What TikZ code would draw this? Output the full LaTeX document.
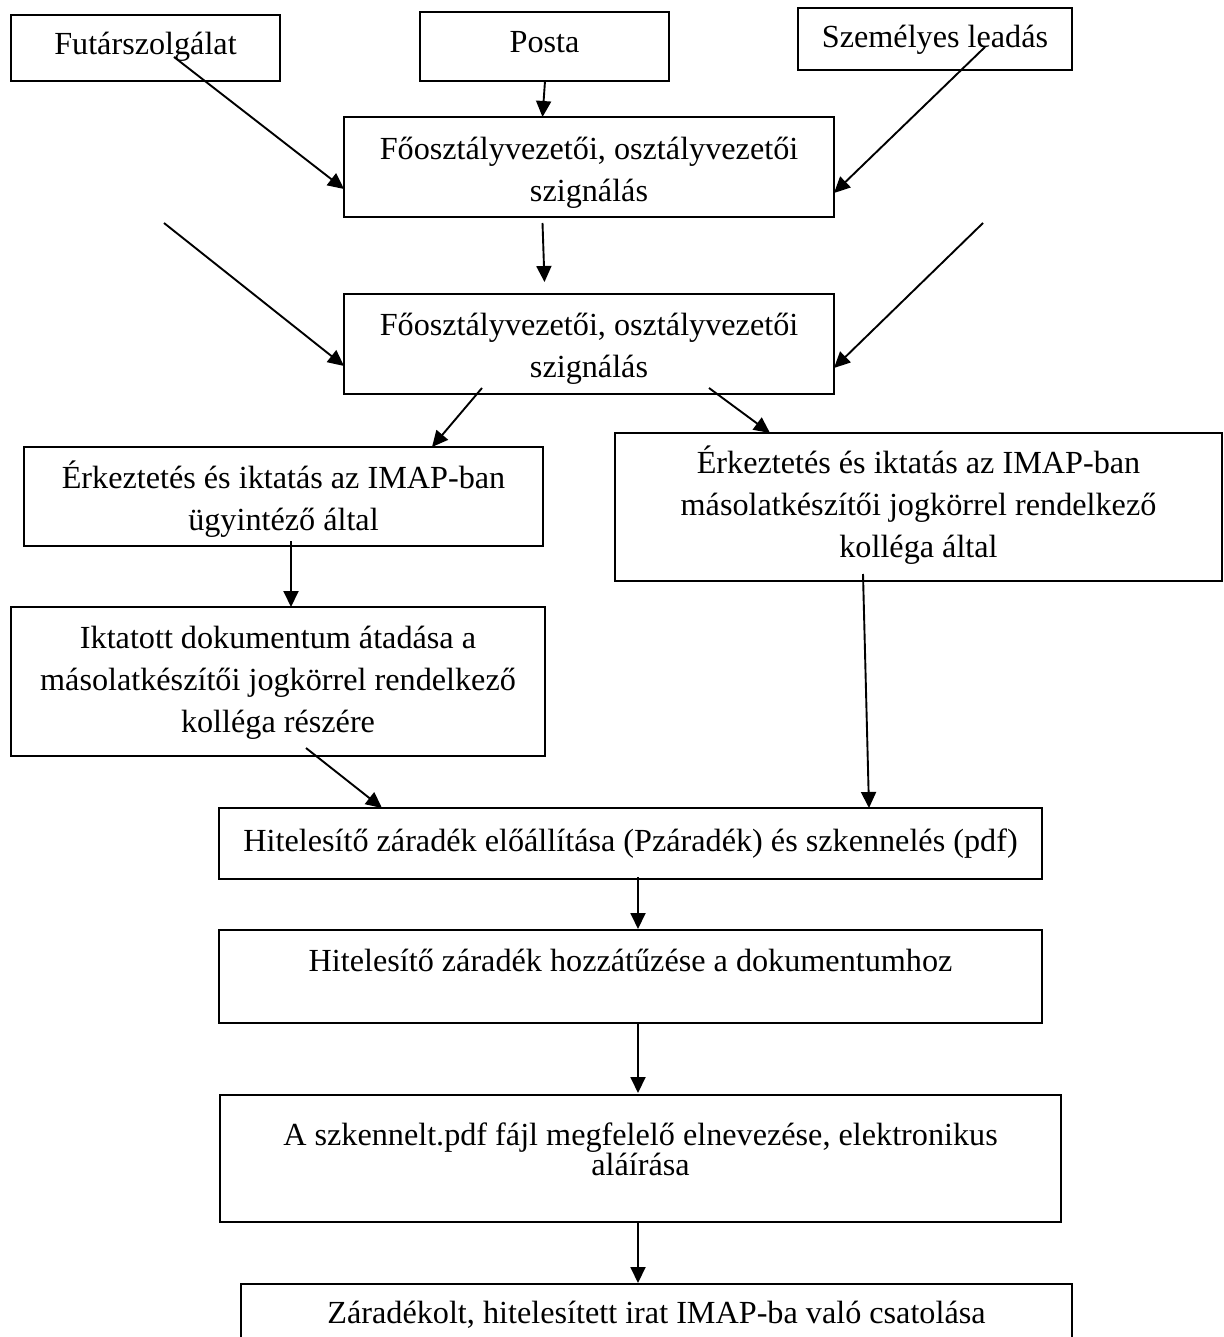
\documentclass[tikz,border=0pt]{standalone}
\usepackage{fontspec}
\setmainfont{Liberation Serif}
\usetikzlibrary{arrows.meta,calc}
\begin{document}
\begin{tikzpicture}[x=1pt,y=-1pt,
  box/.style={draw, line width=1.8pt, inner sep=0pt, outer sep=0pt},
  txt/.style={anchor=base, align=flush center, inner sep=0pt,
    font=\fontsize{32.2}{42}\selectfont},
  tight/.style={font=\fontsize{32.2}{30}\selectfont},
  arr/.style={line width=1.9pt, -{Triangle[length=16pt,width=15pt]}},
]
\fill[white] (0,0) rectangle (1223,1337);
\useasboundingbox (0,0) rectangle (1223,1337);
\begin{scope}
\clip (0,0) rectangle (1223,1337);

% boxes
\node[box, minimum width=269pt, minimum height=66pt] (fut)   at (145.5,48) {};
\node[box, minimum width=249pt, minimum height=69pt] (posta) at (544.5,46.5) {};
\node[box, minimum width=274pt, minimum height=62pt] (szem)  at (935,39) {};
\node[box, minimum width=490pt, minimum height=100pt] (fo1)  at (589,167) {};
\node[box, minimum width=490pt, minimum height=100pt] (fo2)  at (589,344) {};
\node[box, minimum width=519pt, minimum height=99pt] (erk1)  at (283.5,496.5) {};
\node[box, minimum width=607pt, minimum height=148pt] (erk2) at (918.5,507) {};
\node[box, minimum width=534pt, minimum height=149pt] (ikt)  at (278,681.5) {};
\node[box, minimum width=823pt, minimum height=71pt] (hit)   at (630.5,843.5) {};
\node[box, minimum width=823pt, minimum height=93pt] (hoz)   at (630.5,976.5) {};
\node[box, minimum width=841pt, minimum height=127pt] (szk)  at (640.5,1158.5) {};
\node[box, minimum width=831pt, minimum height=100pt] (zar)  at (656.5,1334) {};

% labels
\node[txt, text width=260pt] (fut-t)   at (145.5,55) {Futárszolgálat};
\node[txt, text width=240pt] (posta-t) at (544.5,53) {Posta};
\node[txt, text width=265pt] (szem-t)  at (935,48) {Személyes leadás};
\node[txt, text width=480pt] (fo1-t)   at (589,160) {Főosztályvezetői, osztályvezetői\\szignálás};
\node[txt, text width=480pt] (fo2-t)   at (589,335) {Főosztályvezetői, osztályvezetői\\szignálás};
\node[txt, text width=510pt] (erk1-t)  at (283.5,488) {Érkeztetés és iktatás az IMAP-ban\\ügyintéző által};
\node[txt, text width=597pt] (erk2-t)  at (918.5,473) {Érkeztetés és iktatás az IMAP-ban\\másolatkészítői jogkörrel rendelkező\\kolléga által};
\node[txt, text width=524pt] (ikt-t)   at (278,648) {Iktatott dokumentum átadása a\\másolatkészítői jogkörrel rendelkező\\kolléga részére};
\node[txt, text width=813pt] (hit-t)   at (630.5,851) {Hitelesítő záradék előállítása (Pzáradék) és szkennelés (pdf)};
\node[txt, text width=813pt] (hoz-t)   at (630.5,971) {Hitelesítő záradék hozzátűzése a dokumentumhoz};
\node[txt, tight, text width=831pt] (szk-t) at (640.5,1145) {\lineskiplimit=-100pt\relax A szkennelt.pdf fájl megfelelő elnevezése, elektronikus\\aláírása};
\node[txt, text width=821pt] (zar-t)   at (656.5,1323) {Záradékolt, hitelesített irat IMAP-ba való csatolása};

% free starting points
\coordinate (inL) at (164,223);
\coordinate (inR) at (983,223);

% connectors
\draw[arr] ($(fut.north west)+(163,42)$) -- ($(fo1.north west)+(0,72)$);
\draw[arr] ($(posta.south)+(0.5,0)$) -- ($(fo1.north west)+(198.5,0)$);
\draw[arr] ($(szem.north west)+(187,39)$) -- ($(fo1.north west)+(490,76)$);
\draw[arr] ($(fo1.north west)+(198.5,106)$) -- ($(fo2.north west)+(200.5,-12)$);
\draw[arr] (inL) -- ($(fo2.north west)+(0,72)$);
\draw[arr] (inR) -- ($(fo2.north west)+(490,74)$);
\draw[arr] ($(fo2.north west)+(138,94)$) -- ($(erk1.north west)+(408,0)$);
\draw[arr] ($(fo2.north west)+(365,94)$) -- ($(erk2.north west)+(155,0)$);
\draw[arr] ($(erk1.north west)+(267,94)$) -- ($(ikt.north west)+(280,0)$);
\draw[arr] ($(ikt.north west)+(295,141)$) -- ($(hit.north west)+(163,0)$);
\draw[arr] ($(erk2.north west)+(248,141)$) -- ($(hit.north west)+(650,0)$);
\draw[arr] ($(hit.north west)+(419,69)$) -- ($(hoz.north west)+(419,-1)$);
\draw[arr] ($(hoz.north west)+(419,94)$) -- ($(szk.north west)+(418,-2)$);
\draw[arr] ($(szk.north west)+(418,127)$) -- ($(zar.north west)+(397,-1)$);
\end{scope}
\end{tikzpicture}
\end{document}
